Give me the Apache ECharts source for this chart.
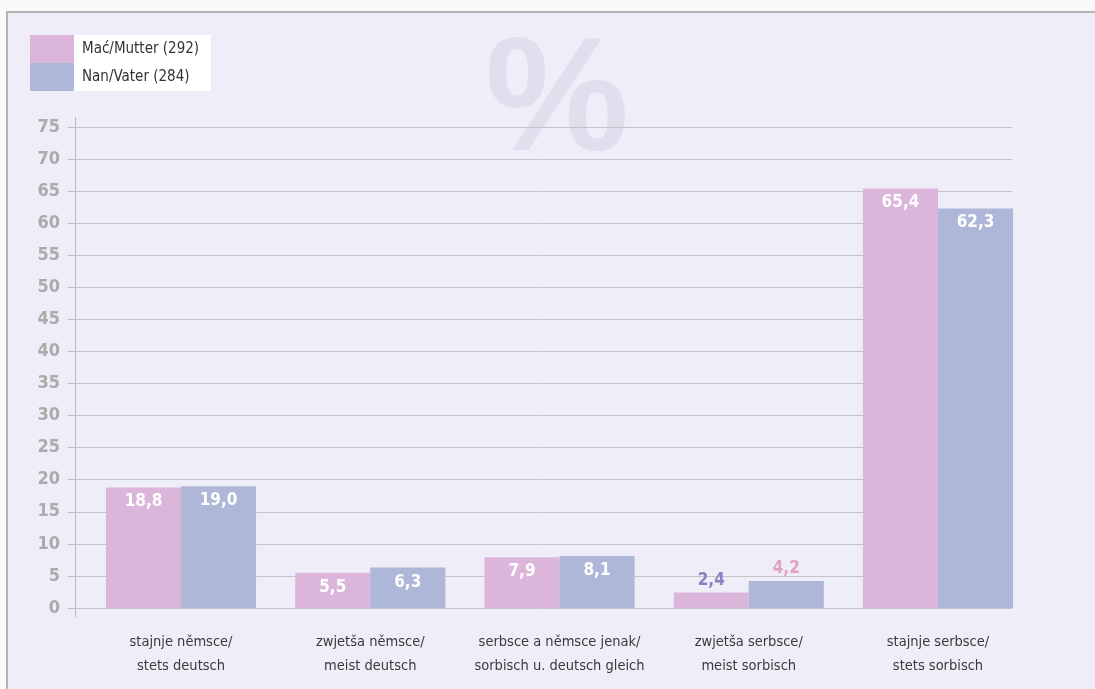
<!DOCTYPE html>
<html>
<head>
<meta charset="utf-8">
<script src="https://cdn.jsdelivr.net/npm/echarts@6/dist/echarts.min.js"></script>
<style>
html,body{margin:0;padding:0;background:#fafafa;}
#c{width:1095px;height:689px;}
</style>
</head>
<body>
<div id="c"></div>
<script>
const categories = [
  'stajnje němsce/\nstets deutsch',
  'zwjetša němsce/\nmeist deutsch',
  'serbsce a němsce jenak/\nsorbisch u. deutsch gleich',
  'zwjetša serbsce/\nmeist sorbisch',
  'stajnje serbsce/\nstets sorbisch'
];
const seriesNames = ['Mać/Mutter (292)', 'Nan/Vater (284)'];
const mother = [18.8, 5.5, 7.9, 2.4, 65.4];
const father = [19.0, 6.3, 8.1, 4.2, 62.3];
const yMin = 0, yMax = 75, yStep = 5;

const FONT = "'Liberation Sans Narrow','DejaVu Sans Condensed',sans-serif";
const PINK = '#dcb5da', BLUE = '#aeb7d8';
const fmt = v => String(v.toFixed(1)).replace('.', ',');

function buildData(vals, outsideColor) {
  return vals.map(v => {
    if (v < 5) {
      return { value: v, label: { position: 'top', distance: 4, color: outsideColor } };
    }
    return v;
  });
}

const panel = { type: 'rect', z: -10, shape: { x: 7, y: 12, width: 1100, height: 690 },
  style: { fill: '#efedf7', stroke: '#b4b4b4', lineWidth: 2 } };
const pct = { type: 'text', z: -5, left: 485, top: 24,
  style: { text: '%', fill: '#e1dfed', font: "bold 162px 'Liberation Sans', sans-serif" } };

const barLabel = { show: true, position: 'insideTop', distance: 6, color: '#ffffff',
  fontFamily: FONT, fontSize: 17, fontWeight: 'bold', formatter: p => fmt(p.value) };

const chart = echarts.init(document.getElementById('c'), null, { renderer: 'canvas' });
chart.setOption({
  animation: false,
  backgroundColor: '#fafafa',
  textStyle: { fontFamily: FONT },
  graphic: [panel, pct],
  legend: {
    left: 30, top: 35, orient: 'vertical',
    itemWidth: 44, itemHeight: 28, itemGap: 0,
    icon: 'rect', padding: [0, 12, 0, 0],
    backgroundColor: '#ffffff',
    textStyle: { fontFamily: FONT, fontSize: 15, color: '#333', padding: [0, 0, 0, 3] },
    data: seriesNames
  },
  grid: [
    { left: 75, right: 83, top: 127, bottom: 81 },
    { left: 86.4, right: 62.4, top: 127, bottom: 81 }
  ],
  xAxis: [
    { gridIndex: 0, type: 'value', min: 0, max: 1, show: false },
    { gridIndex: 1, type: 'category', data: categories,
      axisLine: { show: false }, axisTick: { show: false },
      axisLabel: { interval: 0, fontFamily: FONT, fontSize: 14.5, color: '#3a3a3a', lineHeight: 24, margin: 22 } }
  ],
  yAxis: [
    { gridIndex: 0, type: 'value', min: yMin, max: yMax, interval: yStep,
      axisLine: { show: false },
      axisTick: { show: true, length: 7, lineStyle: { color: '#b9b9b9' } },
      axisLabel: { fontFamily: FONT, fontSize: 18, fontWeight: 'bold', color: '#ababab', margin: 15 },
      splitLine: { lineStyle: { color: '#c4c4c4', width: 1 } } },
    { gridIndex: 1, type: 'value', min: yMin, max: yMax, interval: yStep, show: false,
      splitLine: { show: false } }
  ],
  series: [
    { name: seriesNames[0], type: 'bar', xAxisIndex: 1, yAxisIndex: 1,
      data: buildData(mother, '#8a82c2'),
      itemStyle: { color: PINK }, barGap: '0%', barCategoryGap: '20.7%', label: barLabel },
    { name: seriesNames[1], type: 'bar', xAxisIndex: 1, yAxisIndex: 1,
      data: buildData(father, '#e0a3c0'),
      itemStyle: { color: BLUE }, barGap: '0%', barCategoryGap: '20.7%', label: barLabel }
  ]
});

const pTop = chart.convertToPixel({ yAxisIndex: 0 }, yMax);
const pBot = chart.convertToPixel({ yAxisIndex: 0 }, yMin);
const leftX = chart.convertToPixel({ xAxisIndex: 0 }, 0);
chart.setOption({
  graphic: [
    panel, pct,
    { type: 'line', z: 5, shape: { x1: Math.round(leftX) + 0.5, y1: pTop - 10, x2: Math.round(leftX) + 0.5, y2: pBot + 9 },
      style: { stroke: '#b9b9b9', lineWidth: 1 } }
  ]
});
</script>
</body>
</html>
